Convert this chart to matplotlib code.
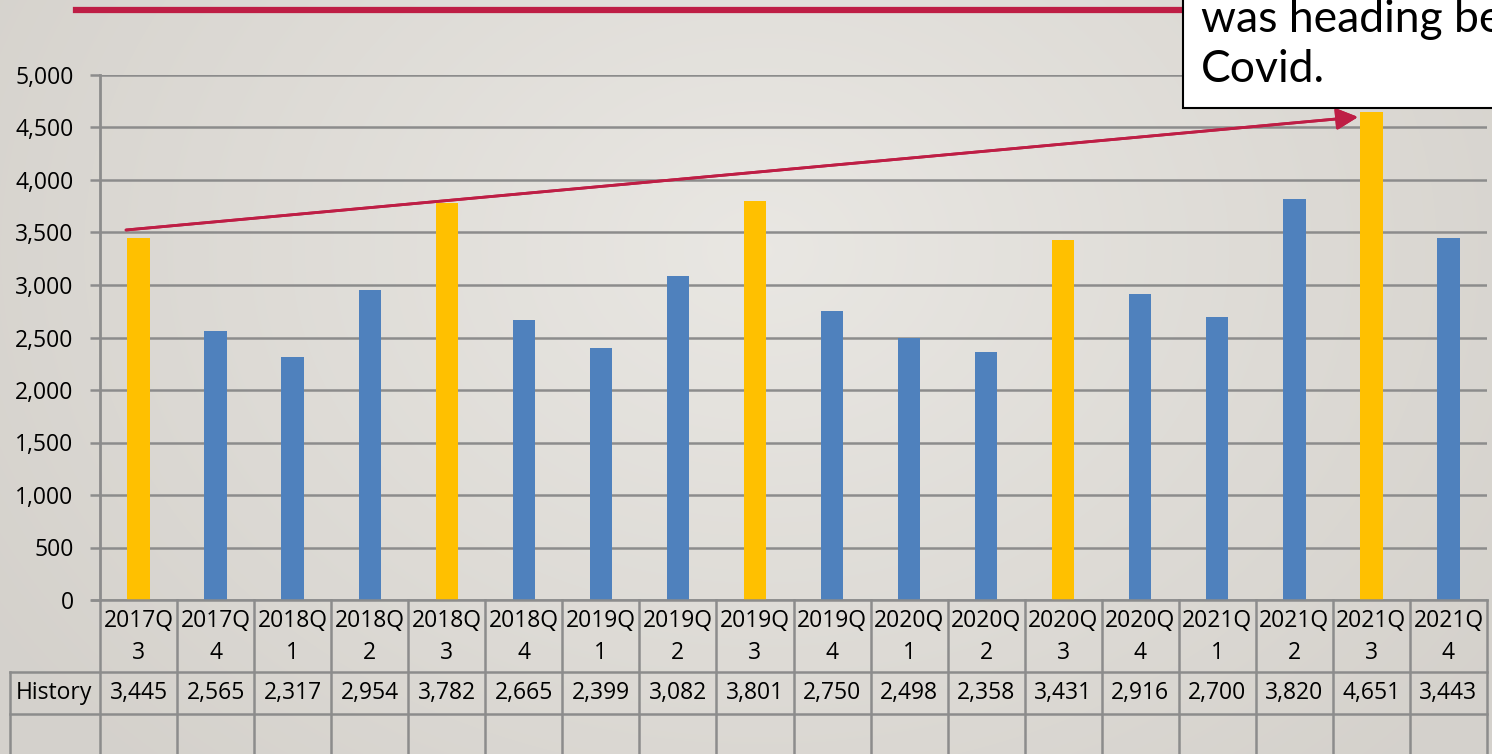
import matplotlib.pyplot as plt
import numpy as np
from matplotlib.patches import Rectangle
from matplotlib.lines import Line2D

# Quarterly history series
quarters = ["2017Q3", "2017Q4", "2018Q1", "2018Q2", "2018Q3", "2018Q4",
            "2019Q1", "2019Q2", "2019Q3", "2019Q4", "2020Q1", "2020Q2",
            "2020Q3", "2020Q4", "2021Q1", "2021Q2", "2021Q3", "2021Q4"]
history = [3445, 2565, 2317, 2954, 3782, 2665, 2399, 3082, 3801,
           2750, 2498, 2358, 3431, 2916, 2700, 3820, 4651, 3443]
y_ticks = [0, 500, 1000, 1500, 2000, 2500, 3000, 3500, 4000, 4500, 5000]

# Q3 bars highlighted in gold
BLUE = "#4F81BD"
GOLD = "#FFC000"
RED = "#BE1E45"
GRID = "#8C8C8C"
colors = [GOLD if q.endswith("Q3") else BLUE for q in quarters]

W, H = 1492, 754
fig = plt.figure(figsize=(W / 100, H / 100), dpi=100)
plt.rcParams["font.family"] = ["Open Sans", "DejaVu Sans"]
FS = 16.5


def fx(px):
    return px / W


def fy(py):
    return 1 - py / H


# soft radial background
bg = fig.add_axes([0, 0, 1, 1], zorder=-10)
yy, xx = np.mgrid[0:H, 0:W]
r = np.sqrt(((xx - 760) / 900.0) ** 2 + ((yy - 250) / 700.0) ** 2)
r = np.clip(r, 0, 1)
c0 = np.array([0.915, 0.907, 0.89])
c1 = np.array([0.835, 0.822, 0.80])
img = c0[None, None, :] * (1 - r[..., None]) + c1[None, None, :] * r[..., None]
bg.imshow(img, aspect="auto", extent=[0, W, H, 0])
bg.set_axis_off()

# main bar axes
left, right, top, bottom = 100, 1487, 75, 600
ax = fig.add_axes([fx(left), fy(bottom), fx(right - left), fy(top) - fy(bottom)])
ax.patch.set_alpha(0)
x = np.arange(len(quarters))
ax.bar(x, history, width=0.29, color=colors, zorder=3)
ax.set_xlim(-0.5, len(quarters) - 0.5)
ax.set_ylim(0, 5000)
ax.set_yticks(y_ticks)
ax.set_yticklabels([f"{v:,}" for v in y_ticks], fontsize=FS)
ax.tick_params(axis="y", length=7, width=1.8, color=GRID, pad=12)
ax.tick_params(axis="x", length=0, labelbottom=False)
for s in ["top", "right", "bottom"]:
    ax.spines[s].set_visible(False)
ax.spines["left"].set_color(GRID)
ax.spines["left"].set_linewidth(2)
ax.grid(axis="y", color=GRID, linewidth=1.8, zorder=0)
ax.set_axisbelow(True)

# data table under the plot
row1, row2 = 672, 714
lw = 1.8
tab_lines = [
    ((left - 8, right), (bottom, bottom)),
    ((10, right), (row1, row1)),
    ((10, right), (row2, row2)),
    ((left, left), (bottom, H)),
    ((10, 10), (row1, H)),
]
edges = np.linspace(left, right, len(quarters) + 1)
for e in edges[1:]:
    tab_lines.append(((e, e), (bottom, H)))
for (xs, ys) in tab_lines:
    fig.add_artist(Line2D([fx(v) for v in xs], [fy(v) for v in ys],
                          color=GRID, linewidth=lw, zorder=5))

centers = (edges[:-1] + edges[1:]) / 2
for cx, q, v in zip(centers, quarters, history):
    fig.text(fx(cx), fy(621), q[:5], ha="center", va="center", fontsize=FS)
    fig.text(fx(cx), fy(653), q[5:], ha="center", va="center", fontsize=FS)
    fig.text(fx(cx), fy(693), f"{v:,}", ha="center", va="center", fontsize=FS)
fig.text(fx(54), fy(693), "History", ha="center", va="center", fontsize=FS)

# trend arrow from first to last Q3
fig.add_artist(plt.annotate(
    "", xy=(fx(1358), fy(117)), xytext=(fx(126), fy(230)),
    xycoords="figure fraction", textcoords="figure fraction",
    arrowprops=dict(arrowstyle="-|>,head_length=0.6,head_width=0.3", color=RED,
                    lw=2, mutation_scale=22, shrinkA=0, shrinkB=0)))

# title rule and callout box
fig.add_artist(Line2D([fx(76), fx(1183)], [fy(10), fy(10)], color=RED,
                      linewidth=4.5, zorder=6))
fig.add_artist(Rectangle((fx(1183), fy(108)), fx(400), fy(-20) - fy(108),
                         facecolor="white", edgecolor="black", linewidth=1.5,
                         zorder=7))
fig.text(fx(1201), fy(20), "was heading before", fontsize=32,
         family=["Lato", "DejaVu Sans"], va="center", ha="left", zorder=8)
fig.text(fx(1201), fy(70), "Covid.", fontsize=32,
         family=["Lato", "DejaVu Sans"], va="center", ha="left", zorder=8)

fig.savefig("out.png", dpi=100)
